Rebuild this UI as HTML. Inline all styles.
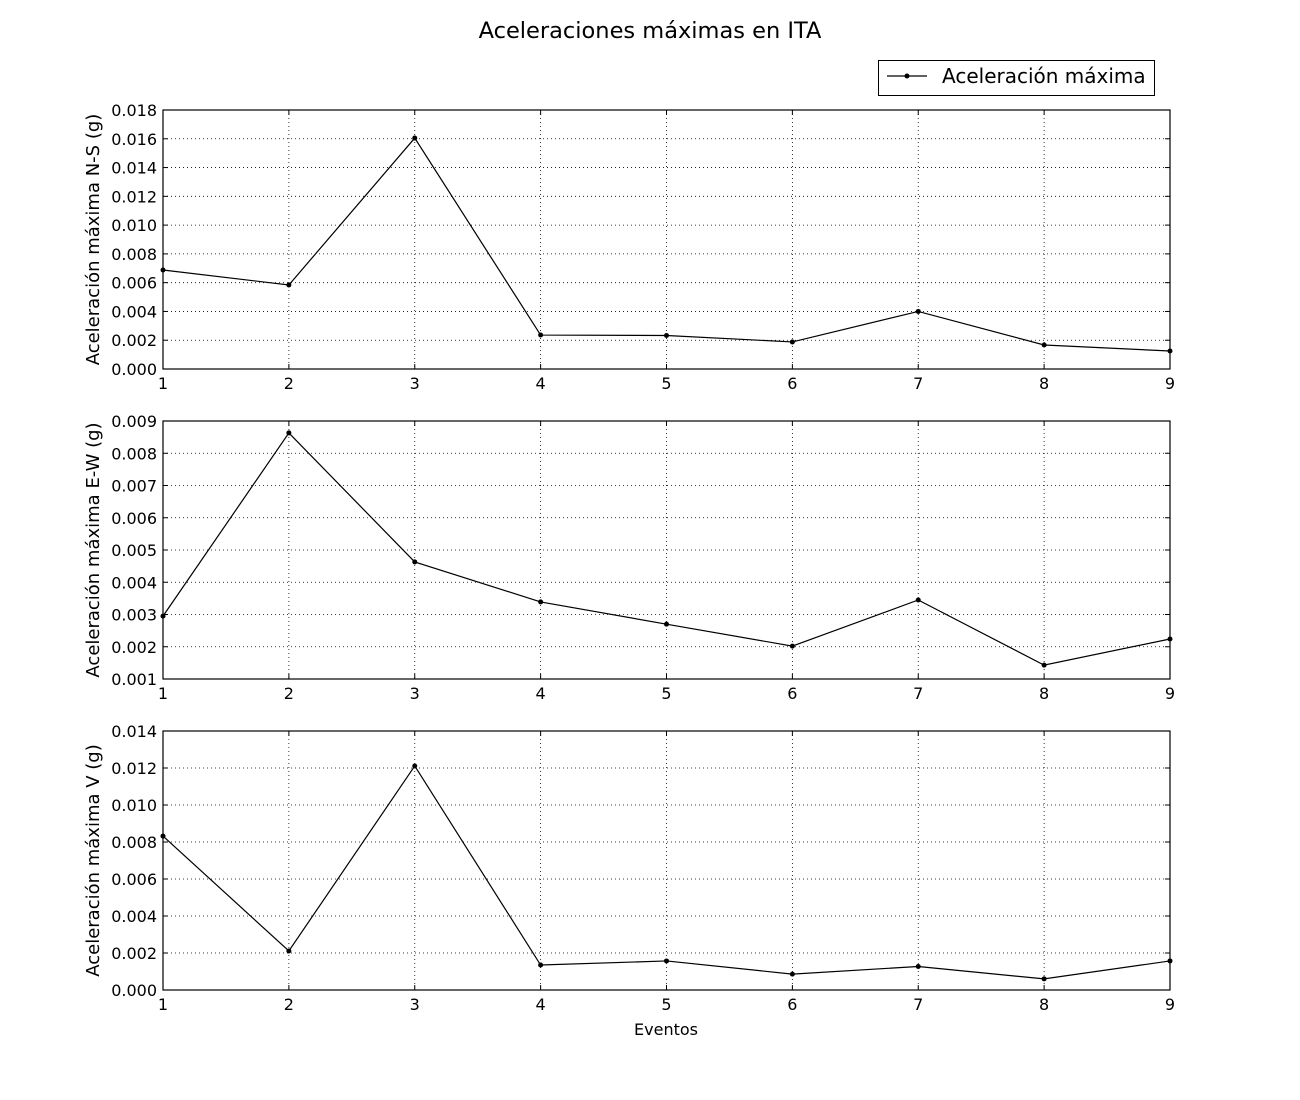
<!DOCTYPE html>
<html><head><meta charset="utf-8">
<style>
html,body{margin:0;padding:0;background:#fff;}
svg{display:block;font-family:"DejaVu Sans","Liberation Sans",sans-serif;}
</style></head>
<body>
<svg id="chart" width="1300" height="1100" viewBox="0 0 1300 1100" xmlns="http://www.w3.org/2000/svg">
<rect width="1300" height="1100" fill="#fff"/>
<text x="650" y="38" font-size="22.5" text-anchor="middle">Aceleraciones máximas en ITA</text>
<g>
<rect x="878.5" y="60.5" width="276" height="35" fill="#fff" stroke="#000" stroke-width="1"/>
<line x1="887" y1="76" x2="927" y2="76" stroke="#000" stroke-width="1.2"/>
<circle cx="907" cy="76" r="2.5" fill="#000"/>
<text x="942" y="83" font-size="20">Aceleración máxima</text>
</g>
<g id="plots"></g>
<text x="666" y="1035" font-size="16" text-anchor="middle">Eventos</text>
</svg>
<script>
const categories = [1,2,3,4,5,6,7,8,9];
const seriesNS = [0.00688,0.00584,0.01605,0.00236,0.00233,0.00188,0.0040,0.00167,0.00125];
const seriesEW = [0.00295,0.00863,0.00463,0.00339,0.0027,0.00202,0.00345,0.00143,0.00224];
const seriesV = [0.00832,0.00211,0.01211,0.00135,0.00157,0.00086,0.00127,0.0006,0.00157];
const ticksNS = ["0.000","0.002","0.004","0.006","0.008","0.010","0.012","0.014","0.016","0.018"];
const ticksEW = ["0.001","0.002","0.003","0.004","0.005","0.006","0.007","0.008","0.009"];
const ticksV = ["0.000","0.002","0.004","0.006","0.008","0.010","0.012","0.014"];
const labelNS = "Aceleración máxima N-S (g)";
const labelEW = "Aceleración máxima E-W (g)";
const labelV = "Aceleración máxima V (g)";

const NS="http://www.w3.org/2000/svg";
const root=document.getElementById('plots');
function mk(tag,attrs,parent){const e=document.createElementNS(NS,tag);for(const k in attrs)e.setAttribute(k,attrs[k]);(parent||root).appendChild(e);return e;}
const L=163,R=1170;
function xs(v){return L+(v-1)/(8)*(R-L);}
function panel(name,top,bot,ticks,vals,label){
  const g=mk('g',{});
  
  
  const t0=parseFloat(ticks[0]),t1=parseFloat(ticks[ticks.length-1]);
  const ys=v=>bot-(v-t0)/(t1-t0)*(bot-top);
  categories.forEach(c=>{
    const x=xs(c);
    mk('line',{x1:x,y1:top,x2:x,y2:bot,stroke:'#000','stroke-width':0.8,'stroke-dasharray':'1,3'},g);
    mk('line',{x1:x,y1:bot,x2:x,y2:bot-5,stroke:'#000'},g);
    mk('line',{x1:x,y1:top,x2:x,y2:top+5,stroke:'#000'},g);
    const t=mk('text',{x:x,y:bot+20,'font-size':16,'text-anchor':'middle'},g);t.textContent=c;
    
    
  });
  ticks.forEach(s=>{
    const y=ys(parseFloat(s));
    mk('line',{x1:L,y1:y,x2:R,y2:y,stroke:'#000','stroke-width':0.8,'stroke-dasharray':'1,3'},g);
    mk('line',{x1:L,y1:y,x2:L+5,y2:y,stroke:'#000'},g);
    mk('line',{x1:R,y1:y,x2:R-5,y2:y,stroke:'#000'},g);
    const t=mk('text',{x:L-6,y:y+6,'font-size':16,'text-anchor':'end'},g);t.textContent=s;
    
    
  });
  mk('rect',{x:L,y:top,width:R-L,height:bot-top,fill:'none',stroke:'#000','stroke-width':1.2},g);
  const pts=vals.map((v,i)=>xs(categories[i])+','+ys(v)).join(' ');
  const pl=mk('polyline',{points:pts,fill:'none',stroke:'#000','stroke-width':1.2},g);
  
  
  vals.forEach((v,i)=>{
    const c=mk('circle',{cx:xs(categories[i]),cy:ys(v),r:2.5,fill:'#000'},g);
    
    
  });
  const cy=(top+bot)/2;
  const yl=mk('text',{x:99,y:cy,'font-size':18,'text-anchor':'middle',transform:'rotate(-90 99 '+cy+')'},g);
  yl.textContent=label;
  
  
}
panel('ns',110,369,ticksNS,seriesNS,labelNS);
panel('ew',421,679,ticksEW,seriesEW,labelEW);
panel('v',731,990,ticksV,seriesV,labelV);
</script>
</body></html>
